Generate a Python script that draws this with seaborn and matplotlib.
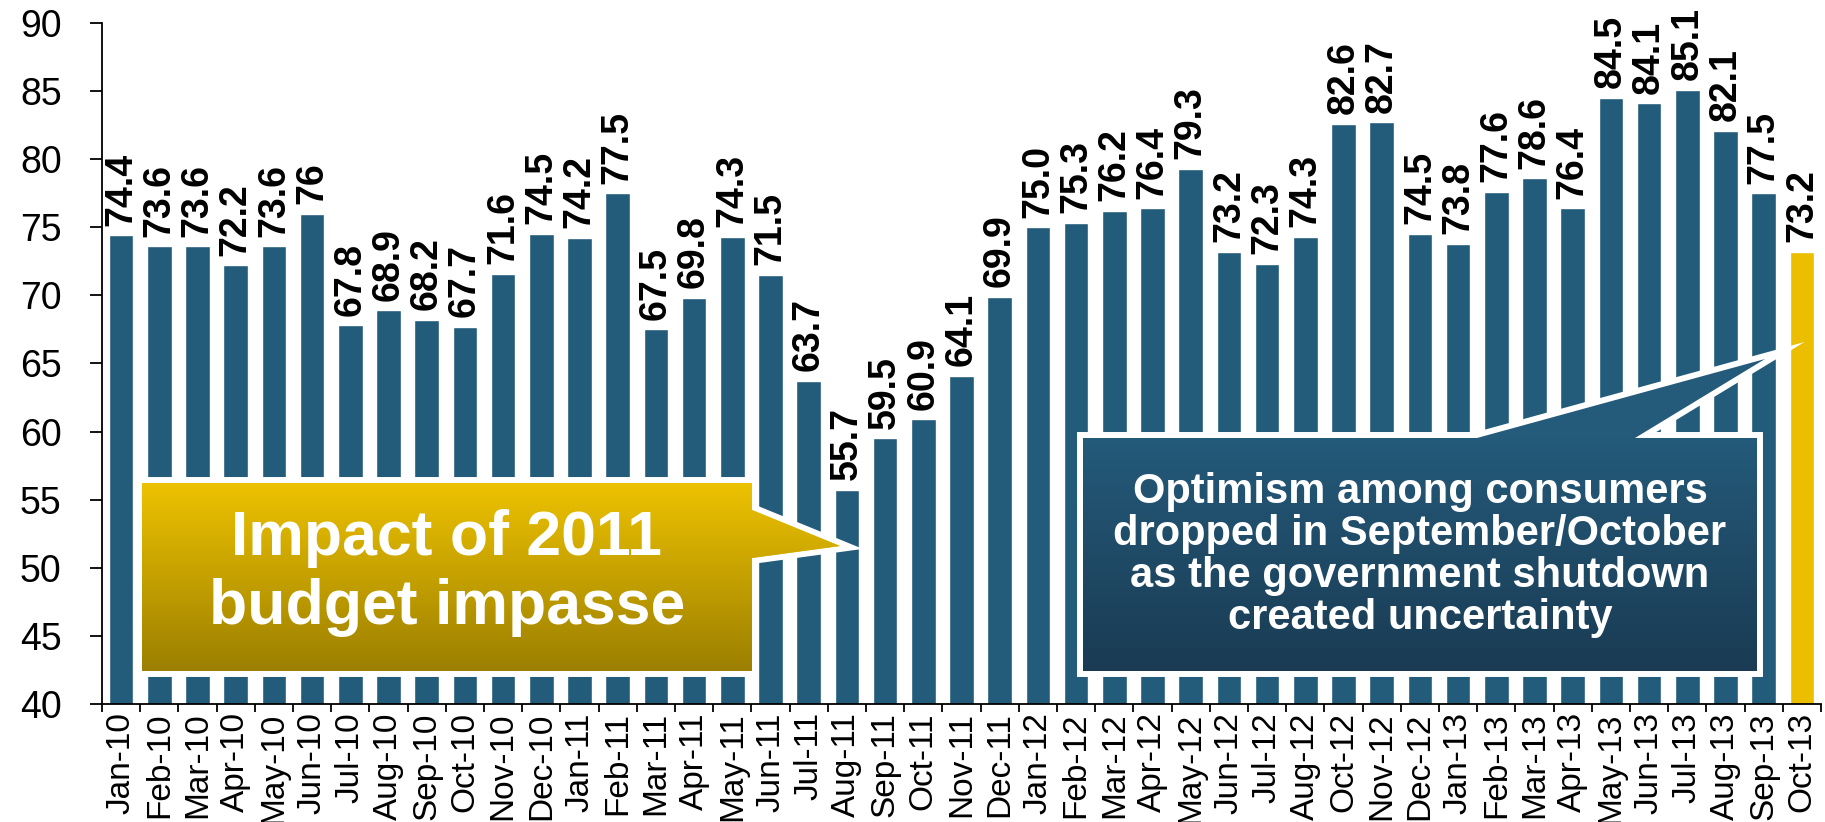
import numpy as np
import matplotlib
matplotlib.use("Agg")
import matplotlib.pyplot as plt
from matplotlib.patches import Polygon
from matplotlib.colors import LinearSegmentedColormap
import seaborn as sns

# data (note: the source chart has no Sep-12 bar)
months = ["Jan-10", "Feb-10", "Mar-10", "Apr-10", "May-10", "Jun-10", "Jul-10", "Aug-10",
          "Sep-10", "Oct-10", "Nov-10", "Dec-10", "Jan-11", "Feb-11", "Mar-11", "Apr-11",
          "May-11", "Jun-11", "Jul-11", "Aug-11", "Sep-11", "Oct-11", "Nov-11", "Dec-11",
          "Jan-12", "Feb-12", "Mar-12", "Apr-12", "May-12", "Jun-12", "Jul-12", "Aug-12",
          "Oct-12", "Nov-12", "Dec-12", "Jan-13", "Feb-13", "Mar-13", "Apr-13", "May-13",
          "Jun-13", "Jul-13", "Aug-13", "Sep-13", "Oct-13"]
values = [74.4, 73.6, 73.6, 72.2, 73.6, 76.0, 67.8, 68.9, 68.2, 67.7, 71.6, 74.5,
          74.2, 77.5, 67.5, 69.8, 74.3, 71.5, 63.7, 55.7, 59.5, 60.9, 64.1, 69.9,
          75.0, 75.3, 76.2, 76.4, 79.3, 73.2, 72.3, 74.3, 82.6, 82.7, 74.5, 73.8,
          77.6, 78.6, 76.4, 84.5, 84.1, 85.1, 82.1, 77.5, 73.2]
value_labels = ["74.4", "73.6", "73.6", "72.2", "73.6", "76", "67.8", "68.9", "68.2", "67.7",
                "71.6", "74.5", "74.2", "77.5", "67.5", "69.8", "74.3", "71.5", "63.7", "55.7",
                "59.5", "60.9", "64.1", "69.9", "75.0", "75.3", "76.2", "76.4", "79.3", "73.2",
                "72.3", "74.3", "82.6", "82.7", "74.5", "73.8", "77.6", "78.6", "76.4", "84.5",
                "84.1", "85.1", "82.1", "77.5", "73.2"]
y_ticks = [40, 45, 50, 55, 60, 65, 70, 75, 80, 85, 90]

note_left = "Impact of 2011\nbudget impasse"
note_right = ("Optimism among consumers\ndropped in September/October\n"
              "as the government shutdown\ncreated uncertainty")

BLUE = "#235B7B"
GOLD = "#EBBE00"

sns.set_theme(style="white")
plt.rcParams['font.family'] = ['Liberation Sans', 'DejaVu Sans']

W, H = 1825, 822
fig = plt.figure(figsize=(W / 100, H / 100), dpi=100)
ax = fig.add_axes([102 / W, 1 - 704 / H, (1821 - 102) / W, (704 - 23) / H])

colors = [BLUE] * (len(months) - 1) + [GOLD]
sns.barplot(x=months, y=values, hue=months, palette=colors, width=0.64,
            saturation=1, legend=False, ax=ax)

for i, (v, lab) in enumerate(zip(values, value_labels)):
    ax.annotate(lab, xy=(i, v), xytext=(0, 7), textcoords="offset points",
                rotation=90, ha="center", va="bottom", fontsize=27,
                fontweight="bold", color="black")

ax.set_ylim(40, 90)
ax.set_xlim(-0.5, len(months) - 0.5)
ax.set_yticks(y_ticks)
ax.set_xticks(range(len(months)))
ax.set_xticklabels(months, rotation=90, fontsize=24)
ax.set_xticks(np.arange(-0.5, len(months)), minor=True)
ax.tick_params(axis="y", direction="out", length=9, width=1.3, labelsize=27,
               pad=20, left=True, colors="black")
ax.tick_params(axis="x", which="major", length=0, pad=6, colors="black")
ax.tick_params(axis="x", which="minor", direction="out", length=6, width=1.3,
               bottom=True, color="black")
ax.set_xlabel("")
ax.set_ylabel("")
sns.despine(ax=ax)
for s in ["left", "bottom"]:
    ax.spines[s].set_color("black")
    ax.spines[s].set_linewidth(1.3)

# callouts drawn in figure pixel space
ov = fig.add_axes([0, 0, 1, 1])
ov.set_xlim(0, W)
ov.set_ylim(H, 0)
ov.axis("off")
ov.patch.set_alpha(0)


def callout(pts, box_top, box_bottom, top_color, bottom_color):
    halo = Polygon(pts, closed=True, fc="none", ec="white", lw=8.6,
                   joinstyle="miter", zorder=1)
    ov.add_patch(halo)
    fill = Polygon(pts, closed=True, fc=top_color, ec="none", zorder=2)
    ov.add_patch(fill)
    xs = [p[0] for p in pts]
    grad = np.linspace(0, 1, 256).reshape(-1, 1)
    cmap = LinearSegmentedColormap.from_list("g", [top_color, bottom_color])
    im = ov.imshow(grad, cmap=cmap, extent=(min(xs), max(xs), box_bottom, box_top),
                   aspect="auto", interpolation="bicubic", zorder=3)
    im.set_clip_path(fill)


gold_pts = [(142, 483), (752, 483), (752, 510), (840, 546), (752, 558), (752, 671), (142, 671)]
callout(gold_pts, 483, 671, "#EDC200", "#9C7F00")
dark_pts = [(1083, 438), (1477, 438), (1765, 359), (1635, 438), (1757, 438), (1757, 671), (1083, 671)]
callout(dark_pts, 438, 671, "#245A7A", "#1A3B53")
ov.set_xlim(0, W)
ov.set_ylim(H, 0)

ov.text(447, 573, note_left, ha="center", va="center", fontsize=45,
        fontweight="bold", color="white", linespacing=1.2, zorder=5)
ov.text(1420, 555, note_right, ha="center", va="center", fontsize=30,
        fontweight="bold", color="white", linespacing=1.07, multialignment="center",
        zorder=5)

fig.savefig("out.png", dpi=100)
